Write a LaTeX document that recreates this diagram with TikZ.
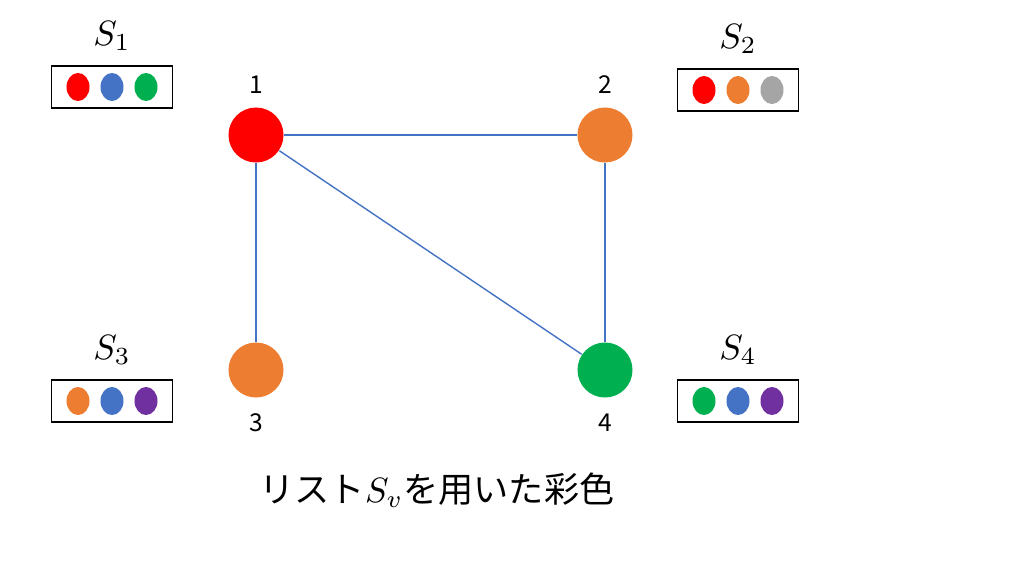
\documentclass[tikz,border=0pt]{standalone}
\usepackage{fontspec}
\usetikzlibrary{shapes.geometric, positioning}
\newfontfamily\cjk{Noto Sans CJK JP}
\setmainfont{Noto Sans CJK JP}
\definecolor{cred}{HTML}{FF0000}
\definecolor{corange}{HTML}{ED7D31}
\definecolor{cblue}{HTML}{4472C4}
\definecolor{cgreen}{HTML}{00B050}
\definecolor{cgray}{HTML}{A5A5A5}
\definecolor{cpurple}{HTML}{7030A0}
\begin{document}
\begin{tikzpicture}[x=0.01cm, y=-0.01cm,
   vertex/.style={circle, inner sep=0pt, minimum size=0.55cm},
   dot/.style={ellipse, inner sep=0pt, minimum width=0.23cm, minimum height=0.28cm},
   list_box/.style={draw=black, thin, minimum width=1.21cm, minimum height=0.42cm},
   edge_style/.style={draw=cblue, thin},
   num/.style={font=\fontsize{7}{8}\selectfont}]
  \useasboundingbox (0,0) rectangle (1024,576);
  \node [vertex, fill=cred] (n1) at (256,135) {};
  \node [vertex, fill=corange] (n2) at (605,135) {};
  \node [vertex, fill=corange] (n3) at (256,370) {};
  \node [vertex, fill=cgreen] (n4) at (605,370) {};
  \node [num] (l1) at (256,85) {1};
  \node [num] (l2) at (605,85) {2};
  \node [num] (l3) at (256,423) {3};
  \node [num] (l4) at (605,423) {4};

  \foreach \from/\to in {n1/n2, n1/n3, n1/n4, n2/n4}
    \draw [edge_style] (\from) -- (\to);

  % lists
  \foreach \name/\x/\y/\ca/\cb/\cc/\i in {b1/112/87/cred/cblue/cgreen/1, b2/738/90/cred/corange/cgray/2,
      b3/112/401/corange/cblue/cpurple/3, b4/738/401/cgreen/cblue/cpurple/4} {
    \node [list_box] (\name) at (\x,\y) {};
    \node [dot, fill=\ca] at (\x-34,\y) {};
    \node [dot, fill=\cb] at (\x,\y) {};
    \node [dot, fill=\cc] at (\x+34,\y) {};
    \node [font=\fontsize{10}{12}\selectfont, above=0.02cm of \name.north] {$S_{\i}$};
  }

  \node [font=\fontsize{10}{12}\selectfont] (caption) at (437,490) {\cjk リスト$S_v$を用いた彩色};
\end{tikzpicture}
\end{document}
